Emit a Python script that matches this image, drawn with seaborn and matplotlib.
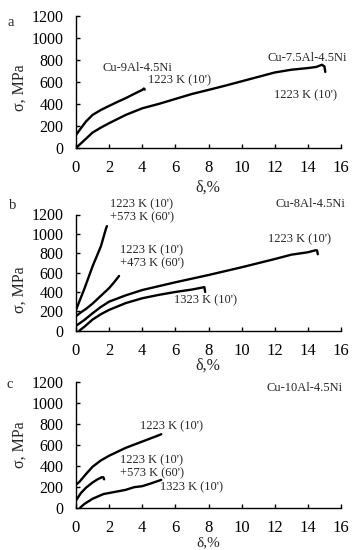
import numpy as np
import pandas as pd
import seaborn as sns
import matplotlib
matplotlib.use("Agg")
import matplotlib.pyplot as plt

# Panel a: Cu-9Al-4.5Ni and Cu-7.5Al-4.5Ni, 1223 K (10')
a_9al_x = [0, 0.3, 0.6, 1.0, 1.5, 2.0, 2.5, 3.0, 3.5, 4.0, 4.1, 4.15]
a_9al_y = [118, 180, 240, 300, 345, 382, 418, 452, 490, 527, 540, 530]
a_75al_x = [0, 0.5, 1.0, 1.5, 2.0, 3.0, 4.0, 5.0, 6.0, 7.0, 8.0, 9.0, 10.0,
            11.0, 12.0, 13.0, 14.0, 14.5, 14.85, 15.0, 15.05]
a_75al_y = [0, 70, 140, 185, 225, 300, 360, 400, 445, 490, 527, 565, 605,
            645, 685, 710, 725, 735, 755, 740, 690]

# Panel b: Cu-8Al-4.5Ni
b_573_x = [0, 0.5, 1.0, 1.5, 1.82, 1.87]
b_573_y = [215, 430, 665, 870, 1060, 1080]
b_473_x = [0, 0.3, 0.6, 1.0, 1.25, 1.5, 2.0, 2.3, 2.6]
b_473_y = [150, 190, 225, 280, 320, 360, 440, 500, 565]
b_1223_x = [0, 0.5, 1.0, 1.5, 2.0, 3.0, 4.0, 6.0, 8.0, 10.0, 12.0, 13.0,
            14.0, 14.45, 14.55, 14.6]
b_1223_y = [50, 110, 180, 245, 300, 365, 420, 500, 575, 655, 740, 785,
            810, 830, 830, 790]
b_1323_x = [0.2, 0.5, 1.0, 1.5, 2.0, 3.0, 4.0, 5.0, 6.0, 7.0, 7.6, 7.75, 7.8]
b_1323_y = [0, 40, 115, 170, 215, 285, 335, 370, 400, 425, 445, 450, 400]

# Panel c: Cu-10Al-4.5Ni
c_1223_x = [0, 0.2, 0.6, 1.0, 1.5, 2.0, 3.0, 4.0, 5.0, 5.15]
c_1223_y = [220, 245, 320, 390, 450, 495, 570, 630, 690, 700]
c_573_x = [0, 0.3, 0.6, 1.0, 1.3, 1.55, 1.65, 1.7]
c_573_y = [70, 140, 190, 240, 270, 290, 290, 270]
c_1323_x = [0.25, 0.5, 1.0, 1.66, 2.5, 3.0, 3.5, 4.0, 4.5, 5.15]
c_1323_y = [0, 35, 85, 130, 155, 170, 195, 205, 230, 265]

x_ticks = list(range(0, 17, 2))
y_ticks = list(range(0, 1201, 200))

sns.set_style("ticks")
plt.rcParams['font.family'] = ['Liberation Serif', 'DejaVu Serif']

W, H = 358, 550
fig = plt.figure(figsize=(W / 100, H / 100), dpi=100)


def px(x, y):
    return x / W, 1 - y / H


def make_axes(top, bottom):
    ax = fig.add_axes([76 / W, 1 - bottom / H, (341 - 76) / W, (bottom - top) / H])
    ax.set_xlim(0, 16)
    ax.set_ylim(0, 1200)
    ax.set_xticks(x_ticks)
    ax.set_yticks(y_ticks)
    sns.despine(ax=ax)
    for s in ['left', 'bottom']:
        ax.spines[s].set_linewidth(1.0)
        ax.spines[s].set_color('black')
    ax.tick_params(axis='both', direction='in', length=3, width=1, colors='black')
    ax.tick_params(axis='x', labelsize=12, pad=9)
    ax.tick_params(axis='y', labelsize=11.5, pad=9)
    ax.set_xlabel('')
    ax.set_ylabel('')
    return ax


def curve(ax, xs, ys):
    df = pd.DataFrame({'d': xs, 's': ys})
    sns.lineplot(data=df, x='d', y='s', ax=ax, sort=False, estimator=None,
                 color='black', lw=1.7)
    ax.set_xlabel('')
    ax.set_ylabel('')


def label(x, y, s, size=9, **kw):
    fig.text(*px(x, y), s, fontsize=size, ha='center', va='center',
             linespacing=1.05, **kw)


panels = [(15.7, 148), (214.5, 330.7), (381.7, 507.7)]
ylab_y = [88, 290, 445]
xlab_y = [188, 366, 543]
letters = [('a', 11, 23), ('b', 12.7, 205), ('c', 9.3, 385)]

axes = [make_axes(t, b) for t, b in panels]

curve(axes[0], a_9al_x, a_9al_y)
curve(axes[0], a_75al_x, a_75al_y)
curve(axes[1], b_573_x, b_573_y)
curve(axes[1], b_473_x, b_473_y)
curve(axes[1], b_1223_x, b_1223_y)
curve(axes[1], b_1323_x, b_1323_y)
curve(axes[2], c_1223_x, c_1223_y)
curve(axes[2], c_573_x, c_573_y)
curve(axes[2], c_1323_x, c_1323_y)

for i in range(3):
    label(20, ylab_y[i], 'σ, MPa', size=11.5, rotation=90)
    label(208, xlab_y[i], 'δ,%', size=11 if i == 2 else 11.5)
    l, lx, ly = letters[i]
    label(lx, ly, l, size=10.5)

# panel a labels
label(137, 68, 'Cu-9Al-4.5Ni')
label(180, 80, "1223 K (10')")
label(307, 58, 'Cu-7.5Al-4.5Ni')
label(305, 95, "1223 K (10')")

# panel b labels
label(141.7, 211, "1223 K (10')\n+573 K (60')")
label(310, 204, 'Cu-8Al-4.5Ni')
label(151.7, 256.7, "1223 K (10')\n+473 K (60')")
label(300, 239, "1223 K (10')")
label(205, 300, "1323 K (10')")

# panel c labels
label(305, 388, 'Cu-10Al-4.5Ni')
label(171.7, 426.7, "1223 K (10')")
label(151.7, 466.7, "1223 K (10')\n+573 K (60')")
label(191.7, 487.7, "1323 K (10')")

fig.savefig('out.png', dpi=100, facecolor='white')
